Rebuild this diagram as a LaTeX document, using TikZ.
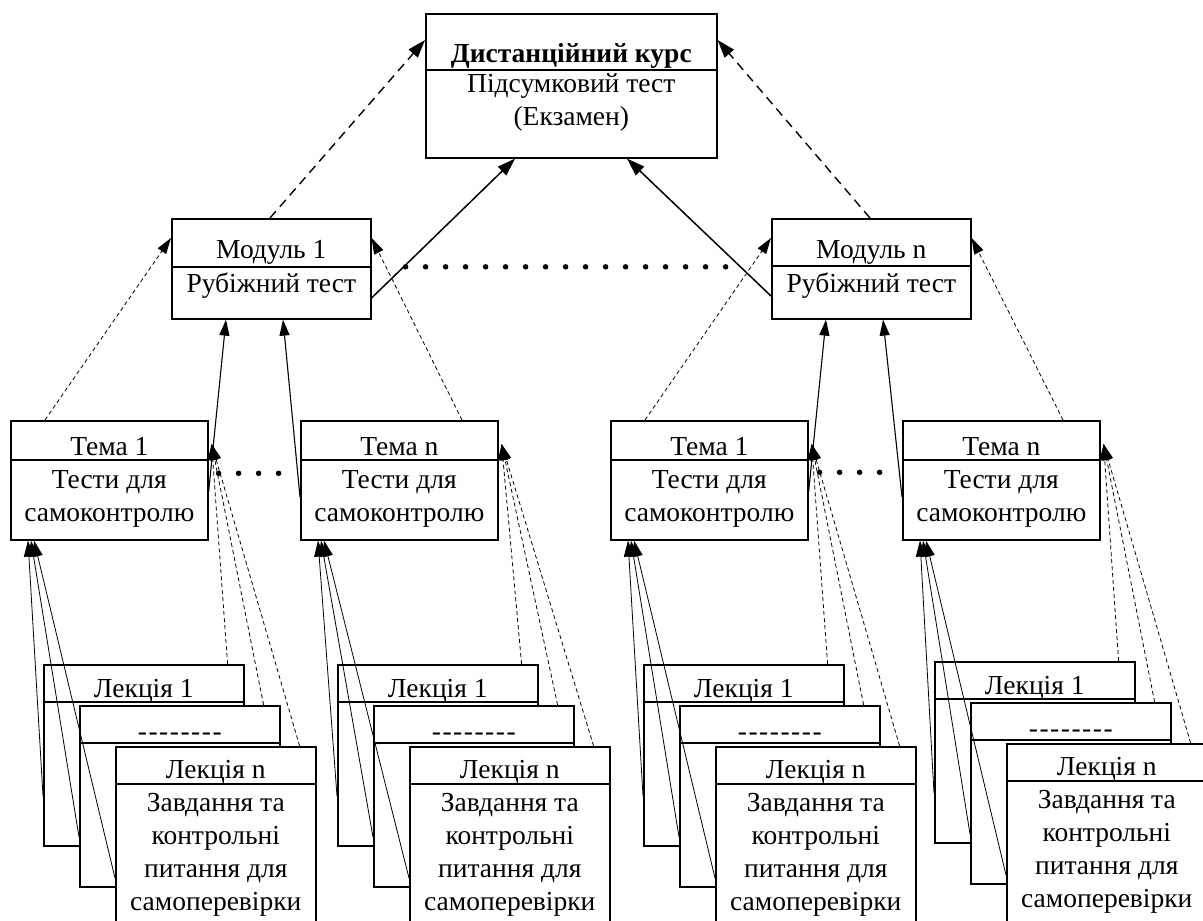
\documentclass[tikz,border=0pt]{standalone}
\usepackage{fontspec}
\setmainfont{Liberation Serif}
\usetikzlibrary{calc,arrows.meta}

\tikzset{
  box/.style={draw,line width=1.6pt,fill=white,anchor=north west,inner sep=0pt},
  lecbox/.style={box,minimum width=200pt,minimum height=181pt},
  temabox/.style={box,minimum width=197pt,minimum height=119pt},
  modbox/.style={box,minimum width=199pt,minimum height=100pt},
  divider/.style={line width=1.2pt},
  txt/.style={anchor=base,align=center,inner sep=0pt,font=\fontsize{27.5}{33}\selectfont},
  bigdash/.style={line width=1.4pt,dash pattern=on 9pt off 6pt,-{Triangle[length=18pt,width=12pt]}},
  bigarrow/.style={line width=1.5pt,-{Triangle[length=18pt,width=12pt]}},
  thindash/.style={line width=0.8pt,dash pattern=on 4pt off 3pt,-{Triangle[length=16pt,width=10pt]}},
  midarrow/.style={line width=1.1pt,-{Triangle[length=16pt,width=10pt]}},
  thinarrow/.style={line width=0.8pt,-{Triangle[length=16pt,width=10pt]}},
  dots/.style={line width=5.5pt,line cap=round,dash pattern=on 0pt off 20pt}
}

\begin{document}
\begin{tikzpicture}[x=1pt,y=-1pt]
\path[use as bounding box] (0,0) rectangle (1203,921);
\clip (0,0) rectangle (1203,921);

% course
\node[box,minimum width=291pt,minimum height=144pt] (course) at (425,13) {};
\draw[divider] ($(course.north west)+(0,57)$) -- ($(course.north east)+(0,57)$);
\node[txt] (coursetitle) at ($(course.north)+(0,49)$) {\bfseries Дистанційний курс};
\node[txt] (coursetest) at ($(course.north)+(0,112)$) {Підсумковий тест\\(Екзамен)};

% modules
\node[modbox] (mod1) at (171,218) {};
\draw[divider] ($(mod1.north west)+(0,49)$) -- ($(mod1.north east)+(0,49)$);
\node[txt] (mod1h) at ($(mod1.north)+(0,40)$) {Модуль 1};
\node[txt] (mod1b) at ($(mod1.north)+(0,74)$) {Рубіжний тест};
\node[modbox] (modn) at (771,218) {};
\draw[divider] ($(modn.north west)+(0,48)$) -- ($(modn.north east)+(0,48)$);
\node[txt] (modnh) at ($(modn.north)+(0,40)$) {Модуль n};
\node[txt] (modnb) at ($(modn.north)+(0,74)$) {Рубіжний тест};

% topics
\node[temabox] (t1a) at (10,420) {};
\draw[divider] ($(t1a.north west)+(0,40)$) -- ($(t1a.north east)+(0,40)$);
\node[txt] (t1ah) at ($(t1a.north)+(0,35)$) {Тема 1};
\node[txt] (t1ab) at ($(t1a.north)+(0,101)$) {Тести для\\самоконтролю};
\node[temabox] (tna) at (300,420) {};
\draw[divider] ($(tna.north west)+(0,40)$) -- ($(tna.north east)+(0,40)$);
\node[txt] (tnah) at ($(tna.north)+(0,35)$) {Тема n};
\node[txt] (tnab) at ($(tna.north)+(0,101)$) {Тести для\\самоконтролю};
\node[temabox] (t1b) at (610,420) {};
\draw[divider] ($(t1b.north west)+(0,40)$) -- ($(t1b.north east)+(0,40)$);
\node[txt] (t1bh) at ($(t1b.north)+(0,35)$) {Тема 1};
\node[txt] (t1bb) at ($(t1b.north)+(0,101)$) {Тести для\\самоконтролю};
\node[temabox] (tnb) at (902,420) {};
\draw[divider] ($(tnb.north west)+(0,40)$) -- ($(tnb.north east)+(0,40)$);
\node[txt] (tnbh) at ($(tnb.north)+(0,35)$) {Тема n};
\node[txt] (tnbb) at ($(tnb.north)+(0,101)$) {Тести для\\самоконтролю};

% lectures, stack a
\node[lecbox] (la1) at (43,664) {};
\draw[divider] ($(la1.north west)+(0,38)$) -- ($(la1.north east)+(0,38)$);
\node[txt] (la1h) at ($(la1.north)+(0,33)$) {Лекція 1};
\node[lecbox] (la2) at (79,705) {};
\draw[divider] ($(la2.north west)+(0,38)$) -- ($(la2.north east)+(0,38)$);
\node[txt] (la2h) at ($(la2.north)+(0,35)$) {-\kern1.5pt-\kern1.5pt-\kern1.5pt-\kern1.5pt-\kern1.5pt-\kern1.5pt-\kern1.5pt-};
\node[lecbox] (la3) at (115,746) {};
\draw[divider] ($(la3.north west)+(0,38)$) -- ($(la3.north east)+(0,38)$);
\node[txt] (la3h) at ($(la3.north)+(0,32)$) {Лекція n};
\node[txt] (la3b) at ($(la3.north)+(0,164)$) {Завдання та\\контрольні\\питання для\\самоперевірки};

% lectures, stack b
\node[lecbox] (lb1) at (337,664) {};
\draw[divider] ($(lb1.north west)+(0,38)$) -- ($(lb1.north east)+(0,38)$);
\node[txt] (lb1h) at ($(lb1.north)+(0,33)$) {Лекція 1};
\node[lecbox] (lb2) at (373,705) {};
\draw[divider] ($(lb2.north west)+(0,38)$) -- ($(lb2.north east)+(0,38)$);
\node[txt] (lb2h) at ($(lb2.north)+(0,35)$) {-\kern1.5pt-\kern1.5pt-\kern1.5pt-\kern1.5pt-\kern1.5pt-\kern1.5pt-\kern1.5pt-};
\node[lecbox] (lb3) at (409,746) {};
\draw[divider] ($(lb3.north west)+(0,38)$) -- ($(lb3.north east)+(0,38)$);
\node[txt] (lb3h) at ($(lb3.north)+(0,32)$) {Лекція n};
\node[txt] (lb3b) at ($(lb3.north)+(0,164)$) {Завдання та\\контрольні\\питання для\\самоперевірки};

% lectures, stack c
\node[lecbox] (lc1) at (643,664) {};
\draw[divider] ($(lc1.north west)+(0,38)$) -- ($(lc1.north east)+(0,38)$);
\node[txt] (lc1h) at ($(lc1.north)+(0,33)$) {Лекція 1};
\node[lecbox] (lc2) at (679,705) {};
\draw[divider] ($(lc2.north west)+(0,38)$) -- ($(lc2.north east)+(0,38)$);
\node[txt] (lc2h) at ($(lc2.north)+(0,35)$) {-\kern1.5pt-\kern1.5pt-\kern1.5pt-\kern1.5pt-\kern1.5pt-\kern1.5pt-\kern1.5pt-};
\node[lecbox] (lc3) at (715,746) {};
\draw[divider] ($(lc3.north west)+(0,38)$) -- ($(lc3.north east)+(0,38)$);
\node[txt] (lc3h) at ($(lc3.north)+(0,32)$) {Лекція n};
\node[txt] (lc3b) at ($(lc3.north)+(0,164)$) {Завдання та\\контрольні\\питання для\\самоперевірки};

% lectures, stack d
\node[lecbox] (ld1) at (934,661) {};
\draw[divider] ($(ld1.north west)+(0,38)$) -- ($(ld1.north east)+(0,38)$);
\node[txt] (ld1h) at ($(ld1.north)+(0,33)$) {Лекція 1};
\node[lecbox] (ld2) at (970,702) {};
\draw[divider] ($(ld2.north west)+(0,38)$) -- ($(ld2.north east)+(0,38)$);
\node[txt] (ld2h) at ($(ld2.north)+(0,35)$) {-\kern1.5pt-\kern1.5pt-\kern1.5pt-\kern1.5pt-\kern1.5pt-\kern1.5pt-\kern1.5pt-};
\node[lecbox] (ld3) at (1006,743) {};
\draw[divider] ($(ld3.north west)+(0,38)$) -- ($(ld3.north east)+(0,38)$);
\node[txt] (ld3h) at ($(ld3.north)+(0,32)$) {Лекція n};
\node[txt] (ld3b) at ($(ld3.north)+(0,164)$) {Завдання та\\контрольні\\питання для\\самоперевірки};

% modules -> course
\draw[bigdash] ($(mod1.north west)+(99,0)$) -- ($(course.north west)+(0,27)$);
\draw[bigdash] ($(modn.north west)+(99,0)$) -- ($(course.north east)+(0,27)$);
\draw[bigarrow] ($(mod1.north east)+(0,80)$) -- ($(course.south west)+(90,0)$);
\draw[bigarrow] ($(modn.north west)+(0,78)$) -- ($(course.south west)+(202,0)$);
\draw[dots] ($(mod1.east)+(34,-2)$) -- ($(modn.west)+(-40,-2)$);

% topics -> modules
\draw[thindash] ($(t1a.north west)+(35,0)$) -- ($(mod1.north west)+(0,20)$);
\draw[thindash] ($(tna.north west)+(162,0)$) -- ($(mod1.north east)+(0,20)$);
\draw[midarrow] ($(t1a.north east)+(0,72)$) -- ($(mod1.south west)+(55,0)$);
\draw[midarrow] ($(tna.north west)+(0,77)$) -- ($(mod1.south west)+(112,0)$);
\draw[thindash] ($(t1b.north west)+(35,0)$) -- ($(modn.north west)+(0,20)$);
\draw[thindash] ($(tnb.north west)+(161,0)$) -- ($(modn.north east)+(0,20)$);
\draw[midarrow] ($(t1b.north east)+(0,72)$) -- ($(modn.south west)+(55,0)$);
\draw[midarrow] ($(tnb.north west)+(0,77)$) -- ($(modn.south west)+(112,0)$);
\draw[dots] ($(t1a.east)+(10,-7)$) -- ($(tna.west)+(-4,-7)$);
\draw[dots] ($(t1b.east)+(11,-8)$) -- ($(tnb.west)+(-22,-8)$);

% lectures -> topics
\draw[thinarrow] ($(la1.north west)+(0,132)$) -- ($(t1a.south west)+(18,0)$);
\draw[thinarrow] ($(la2.north west)+(0,132)$) -- ($(t1a.south west)+(21,0)$);
\draw[thinarrow] ($(la3.north west)+(0,132)$) -- ($(t1a.south west)+(24,0)$);
\draw[thindash] ($(la1.north east)+(-17,0)$) -- ($(t1a.north east)+(3,24)$);
\draw[thindash] ($(la2.north east)+(-17,0)$) -- ($(t1a.north east)+(3,24)$);
\draw[thindash] ($(la3.north east)+(-17,0)$) -- ($(t1a.north east)+(3,24)$);
\draw[thinarrow] ($(lb1.north west)+(0,132)$) -- ($(tna.south west)+(18,0)$);
\draw[thinarrow] ($(lb2.north west)+(0,132)$) -- ($(tna.south west)+(21,0)$);
\draw[thinarrow] ($(lb3.north west)+(0,132)$) -- ($(tna.south west)+(24,0)$);
\draw[thindash] ($(lb1.north east)+(-17,0)$) -- ($(tna.north east)+(3,24)$);
\draw[thindash] ($(lb2.north east)+(-17,0)$) -- ($(tna.north east)+(3,24)$);
\draw[thindash] ($(lb3.north east)+(-17,0)$) -- ($(tna.north east)+(3,24)$);
\draw[thinarrow] ($(lc1.north west)+(0,132)$) -- ($(t1b.south west)+(18,0)$);
\draw[thinarrow] ($(lc2.north west)+(0,132)$) -- ($(t1b.south west)+(21,0)$);
\draw[thinarrow] ($(lc3.north west)+(0,132)$) -- ($(t1b.south west)+(24,0)$);
\draw[thindash] ($(lc1.north east)+(-17,0)$) -- ($(t1b.north east)+(3,24)$);
\draw[thindash] ($(lc2.north east)+(-17,0)$) -- ($(t1b.north east)+(3,24)$);
\draw[thindash] ($(lc3.north east)+(-17,0)$) -- ($(t1b.north east)+(3,24)$);
\draw[thinarrow] ($(ld1.north west)+(0,132)$) -- ($(tnb.south west)+(18,0)$);
\draw[thinarrow] ($(ld2.north west)+(0,132)$) -- ($(tnb.south west)+(21,0)$);
\draw[thinarrow] ($(ld3.north west)+(0,132)$) -- ($(tnb.south west)+(24,0)$);
\draw[thindash] ($(ld1.north east)+(-17,0)$) -- ($(tnb.north east)+(3,24)$);
\draw[thindash] ($(ld2.north east)+(-17,0)$) -- ($(tnb.north east)+(3,24)$);
\draw[thindash] ($(ld3.north east)+(-17,0)$) -- ($(tnb.north east)+(3,24)$);
\end{tikzpicture}
\end{document}
